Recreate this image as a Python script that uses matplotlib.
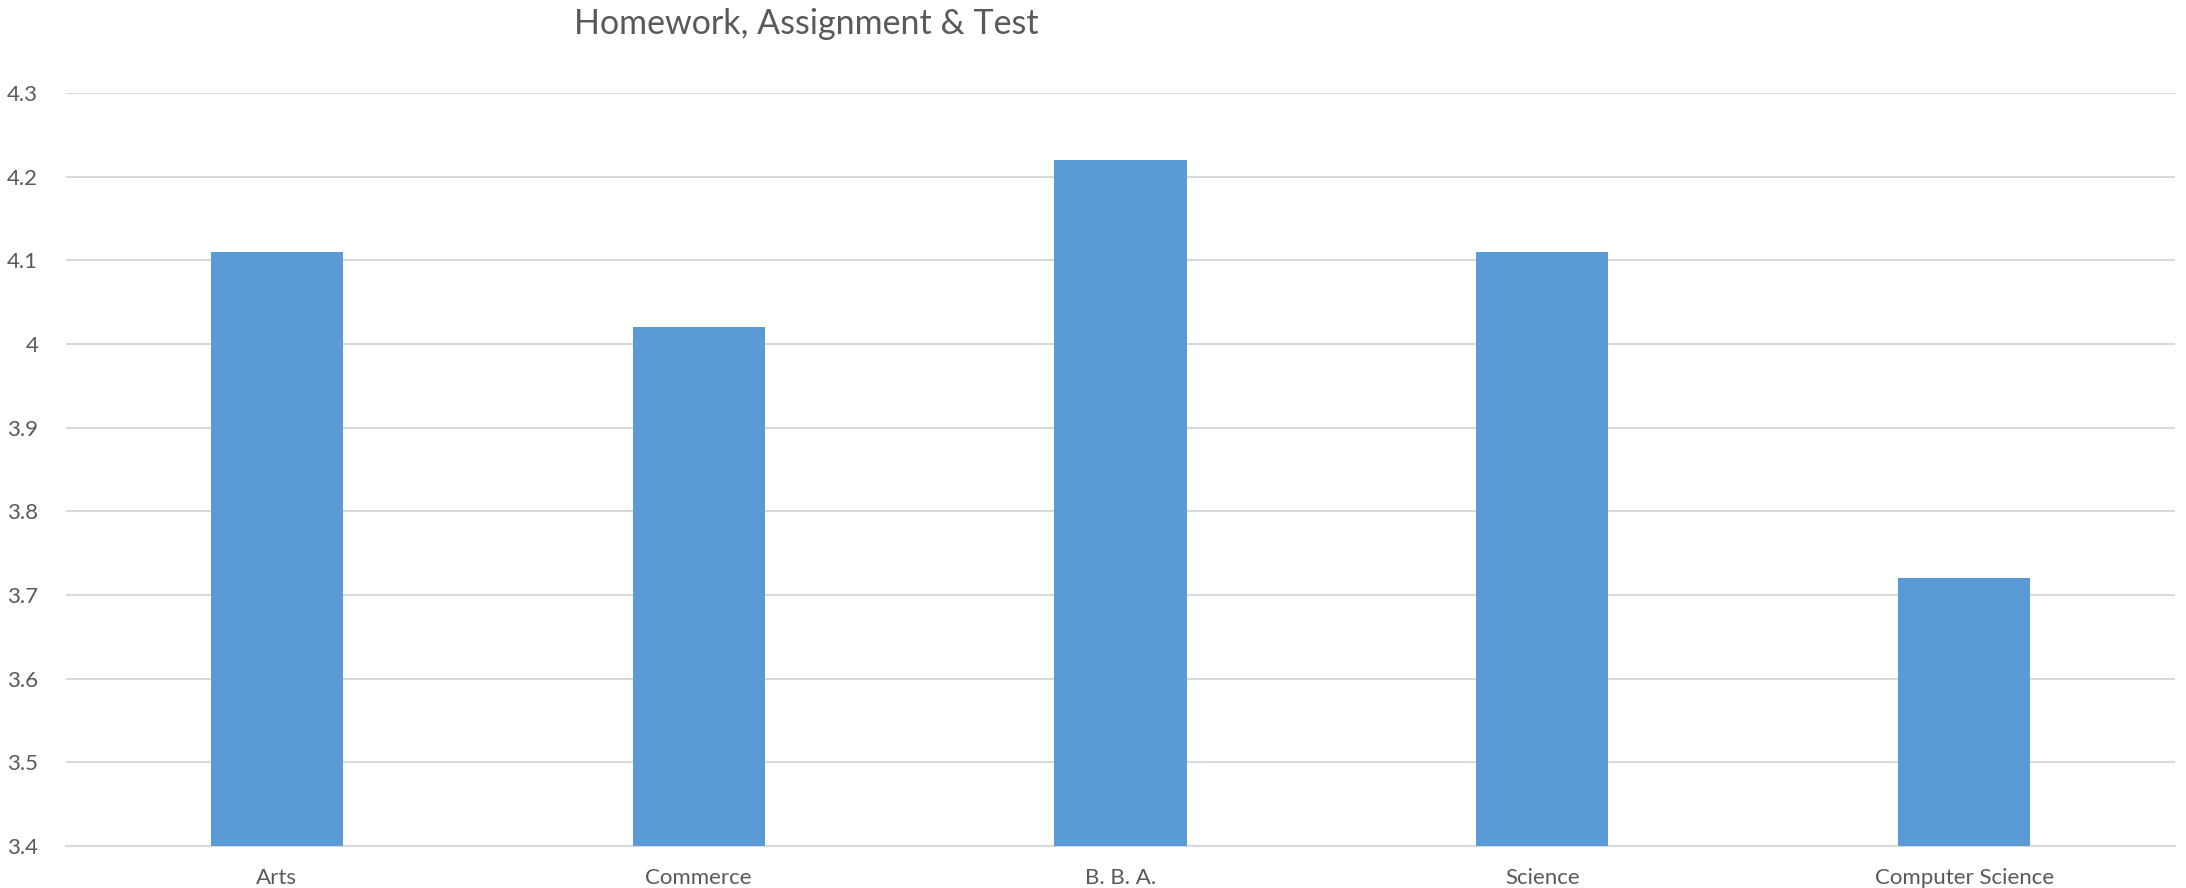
import numpy as np
import matplotlib.pyplot as plt

# Homework, Assignment & Test - mean scores per stream
categories = ["Arts", "Commerce", "B. B. A.", "Science", "Computer Science"]
scores = [4.11, 4.02, 4.22, 4.11, 3.72]
yticks = [3.4, 3.5, 3.6, 3.7, 3.8, 3.9, 4.0, 4.1, 4.2, 4.3]
ytick_labels = ["3.4", "3.5", "3.6", "3.7", "3.8", "3.9", "4", "4.1", "4.2", "4.3"]

text_col = "#595959"
grid_col = "#D9D9D9"
bar_col = "#5B9BD5"

plt.rcParams['font.family'] = ['Lato', 'DejaVu Sans']

fig = plt.figure(figsize=(21.86, 8.88), dpi=100)
ax = fig.add_axes([66/2186, 1-846/888, (2175-66)/2186, (846-93)/888])

x = np.arange(len(categories))
ax.bar(x, np.array(scores) - 3.4, bottom=3.4, width=0.313, color=bar_col, zorder=3)

ax.set_xlim(-0.5, len(categories) - 0.5)
ax.set_ylim(3.4, 4.3)
ax.set_yticks(yticks)
ax.set_yticklabels(ytick_labels)
ax.set_xticks(x)
ax.set_xticklabels(categories)
ax.tick_params(axis='both', length=0, colors=text_col, labelsize=16)
ax.tick_params(axis='y', pad=20)
ax.tick_params(axis='x', pad=16)
ax.grid(axis='y', color=grid_col, linewidth=1.5, zorder=0)
for s in ['top', 'right', 'left']:
    ax.spines[s].set_visible(False)
ax.spines['bottom'].set_color(grid_col)
ax.spines['bottom'].set_linewidth(1.5)

fig.text(806/2186, 1-24/888, "Homework, Assignment & Test", ha='center', va='center',
         fontsize=24.5, color=text_col)

fig.savefig("out.png", dpi=100)
